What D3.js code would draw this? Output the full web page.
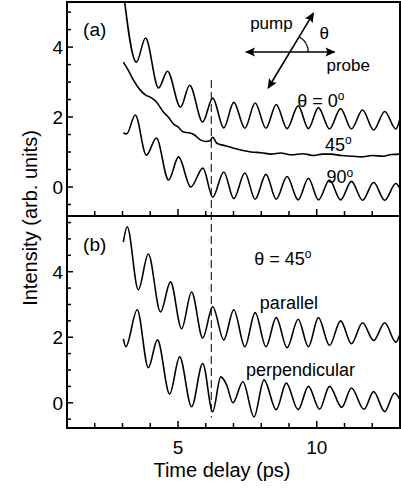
<!DOCTYPE html>
<html>
<head>
<meta charset="utf-8">
<script src="https://cdn.jsdelivr.net/npm/d3@7"></script>
<style>
  body { margin: 0; background: #fff; }
  text { font-family: "Liberation Sans", Arial, Helvetica, sans-serif; fill: #000; }
</style>
</head>
<body>
<svg id="chart"></svg>
<script>
// ---- data (time in ps, intensity in arb. units) ----
const t0   = [3.0, 3.5, 3.83, 4.30, 4.62, 5.09, 5.42, 5.89, 6.25, 6.65, 7.01, 7.41, 7.78, 8.17, 8.54, 8.93, 9.33, 9.70, 10.06, 10.46, 10.86, 11.25, 11.65, 12.05, 12.45, 12.85, 13.0];
const v0   = [5.8, 3.57, 4.26, 2.83, 3.31, 2.28, 2.91, 1.86, 2.54, 1.69, 2.42, 1.68, 2.40, 1.68, 2.36, 1.67, 2.32, 1.67, 2.27, 1.66, 2.24, 1.66, 2.2, 1.63, 2.16, 1.66, 1.95];

const t45  = [3.03, 3.2, 3.4, 3.64, 3.85, 4.0, 4.2, 4.48, 4.65, 4.84, 5.0, 5.2, 5.4, 5.57, 5.82, 6.0, 6.15, 6.25, 6.4, 6.7, 7.01, 7.3, 7.63, 8.0, 8.36, 8.7, 9.1, 9.5, 9.9, 10.2, 10.5, 10.9, 11.3, 11.6, 12.0, 12.4, 12.7, 13.0];
const v45  = [3.57, 3.35, 3.05, 2.77, 2.62, 2.57, 2.45, 2.14, 2.0, 1.8, 1.72, 1.57, 1.55, 1.5, 1.34, 1.3, 1.32, 1.42, 1.25, 1.18, 1.11, 1.05, 1.0, 0.98, 0.94, 0.97, 0.92, 0.95, 0.9, 0.94, 0.94, 0.9, 0.88, 0.86, 0.9, 0.88, 0.93, 0.94];

const t90  = [3.03, 3.15, 3.46, 3.86, 4.22, 4.66, 5.02, 5.46, 5.9, 6.25, 6.65, 7.01, 7.41, 7.78, 8.17, 8.54, 8.93, 9.33, 9.70, 10.06, 10.46, 10.86, 11.25, 11.65, 12.05, 12.45, 12.85, 13.0];
const v90  = [1.54, 1.52, 2.06, 0.91, 1.4, 0.2, 0.86, 0.0, 0.54, -0.29, 0.43, -0.33, 0.40, -0.35, 0.36, -0.35, 0.3, -0.37, 0.25, -0.37, 0.2, -0.37, 0.16, -0.38, 0.13, -0.38, 0.1, -0.05];

const tPar = [3.03, 3.17, 3.57, 3.93, 4.37, 4.73, 5.13, 5.49, 5.89, 6.25, 6.65, 7.01, 7.41, 7.78, 8.17, 8.54, 8.93, 9.33, 9.70, 10.06, 10.46, 10.86, 11.25, 11.65, 12.05, 12.45, 12.85, 13.0];
const vPar = [4.9, 5.37, 3.45, 4.54, 2.77, 3.69, 2.26, 3.38, 1.98, 2.93, 1.92, 2.84, 1.71, 2.75, 1.71, 2.6, 1.68, 2.55, 1.71, 2.6, 1.75, 2.5, 1.8, 2.44, 1.9, 2.44, 1.85, 2.1];

const tPer = [3.03, 3.12, 3.53, 3.93, 4.26, 4.70, 5.06, 5.49, 5.89, 6.25, 6.54, 6.75, 6.98, 7.34, 7.74, 8.1, 8.54, 8.9, 9.33, 9.7, 10.1, 10.46, 10.9, 11.25, 11.7, 12.05, 12.45, 12.8, 13.0];
const vPer = [1.95, 1.71, 2.84, 1.07, 1.92, 0.27, 1.4, -0.12, 1.2, -0.27, 0.79, 0.55, 0.0, 0.64, -0.43, 0.7, -0.21, 0.6, -0.21, 0.5, -0.2, 0.5, -0.14, 0.45, -0.2, 0.34, -0.27, 0.3, 0.1];

const dashT = 6.2;
const xTicks = [1, 2, 3, 4, 5, 6, 7, 8, 9, 10, 11, 12, 13];
const xLabels = [5, 10];
const yLabels = [0, 2, 4];

// ---- layout ----
const W = 401, H = 489;
const svg = d3.select('#chart').attr('width', W).attr('height', H);

const x = d3.scaleLinear().domain([1, 13]).range([67, 400]);
const yA = d3.scaleLinear().domain([-0.83, 5.29]).range([216, 2]);
const yB = d3.scaleLinear().domain([-0.77, 5.7]).range([428, 216]);

const font = '"Liberation Sans", Arial, Helvetica, sans-serif';

svg.append('defs').append('clipPath').attr('id', 'clipA')
  .append('rect').attr('x', 67).attr('y', 2).attr('width', 333).attr('height', 214);
svg.select('defs').append('marker')
  .attr('id', 'head').attr('viewBox', '0 0 10 10').attr('refX', 9).attr('refY', 5)
  .attr('markerWidth', 11).attr('markerHeight', 10).attr('markerUnits', 'userSpaceOnUse')
  .attr('orient', 'auto-start-reverse')
  .append('path').attr('d', 'M0,0.5 L10,5 L0,9.5 L2,5 Z').attr('fill', '#000');

function series(t, v) { return t.map((d, i) => [d, v[i]]); }

function drawPanel(y, curves, clip) {
  const g = svg.append('g');
  const line = d3.line().x(d => x(d[0])).y(d => y(d[1])).curve(d3.curveMonotoneX);
  const cg = g.append('g');
  if (clip) cg.attr('clip-path', 'url(#clipA)');
  curves.forEach(c => {
    cg.append('path').datum(c).attr('d', line)
      .attr('fill', 'none').attr('stroke', '#000').attr('stroke-width', 1.6)
      .attr('stroke-linejoin', 'round');
  });

  // y axis: inward ticks every 0.5
  const [lo, hi] = y.domain();
  const yt = d3.range(Math.ceil(lo * 2) / 2, hi + 1e-9, 0.5);
  g.append('g').selectAll('line').data(yt).join('line')
    .attr('x1', 67).attr('x2', d => 67 + (d % 2 === 0 ? 6 : 4))
    .attr('y1', d => y(d)).attr('y2', d => y(d))
    .attr('stroke', '#000').attr('stroke-width', 1.5);
  g.append('g').selectAll('text').data(yLabels).join('text')
    .attr('x', 63).attr('y', d => y(d)).attr('dy', '0.36em')
    .attr('text-anchor', 'end').attr('font-size', 19).attr('font-family', font)
    .text(d => d);

  // bottom ticks (inward, upward)
  const yb = y.range()[0];
  g.append('g').selectAll('line').data(xTicks).join('line')
    .attr('x1', d => x(d)).attr('x2', d => x(d))
    .attr('y1', yb).attr('y2', d => yb - (d % 5 === 0 ? 7 : 5))
    .attr('stroke', '#000').attr('stroke-width', 1.5);
  return g;
}

drawPanel(yA, [series(t0, v0), series(t45, v45), series(t90, v90)], true);
drawPanel(yB, [series(tPar, vPar), series(tPer, vPer)], false);

// frame
svg.append('rect').attr('x', 67).attr('y', 2).attr('width', 333).attr('height', 426)
  .attr('fill', 'none').attr('stroke', '#000').attr('stroke-width', 2);
svg.append('line').attr('x1', 67).attr('x2', 400).attr('y1', 216).attr('y2', 216)
  .attr('stroke', '#000').attr('stroke-width', 2);

// dashed marker line
svg.append('line')
  .attr('x1', x(dashT)).attr('x2', x(dashT))
  .attr('y1', yA(3.06)).attr('y2', yB(-0.45))
  .attr('stroke', '#000').attr('stroke-width', 1).attr('stroke-dasharray', '8,4');

// x labels
svg.append('g').selectAll('text').data(xLabels).join('text')
  .attr('x', d => x(d)).attr('y', 454).attr('text-anchor', 'middle')
  .attr('font-size', 19).attr('font-family', font).text(d => d);
svg.append('text').attr('x', 222).attr('y', 477).attr('text-anchor', 'middle')
  .attr('font-size', 20).attr('font-family', font).text('Time delay (ps)');
svg.append('text').attr('transform', 'translate(37,218) rotate(-90)')
  .attr('text-anchor', 'middle').attr('font-size', 20).attr('font-family', font)
  .text('Intensity (arb. units)');

// panel labels & annotations
function label(txt, t, v, y, size, anchor) {
  return svg.append('text').attr('x', x(t)).attr('y', y(v)).attr('dy', '0.36em')
    .attr('text-anchor', anchor || 'start').attr('font-size', size).attr('font-family', font)
    .text(txt);
}
function deg(sel) {
  sel.append('tspan').attr('dy', '-0.55em').attr('font-size', 12).text('o');
}
label('(a)', 1.58, 4.5, yA, 19);
label('(b)', 1.58, 4.84, yB, 19);

deg(label('θ = 0', 9.3, 2.47, yA, 18));
deg(label('45', 10.3, 1.22, yA, 18));
deg(label('90', 10.35, 0.29, yA, 18));

deg(label('θ = 45', 7.75, 4.4, yB, 18));
label('parallel', 7.95, 3.07, yB, 18);
label('perpendicular', 7.45, 1.0, yB, 18);

// polarisation inset
label('pump', 7.6, 4.68, yA, 17);
label('θ', 10.1, 4.4, yA, 17);
label('probe', 10.35, 3.48, yA, 17);

svg.append('line')
  .attr('x1', x(7.45)).attr('y1', yA(3.86)).attr('x2', x(10.64)).attr('y2', yA(3.86))
  .attr('stroke', '#000').attr('stroke-width', 1.6)
  .attr('marker-start', 'url(#head)').attr('marker-end', 'url(#head)');
svg.append('line')
  .attr('x1', x(8.25)).attr('y1', yA(2.83)).attr('x2', x(9.88)).attr('y2', yA(4.97))
  .attr('stroke', '#000').attr('stroke-width', 1.6)
  .attr('marker-start', 'url(#head)').attr('marker-end', 'url(#head)');

// dotted angle arc
const cx = x(9.08), cy = yA(3.86), r = 17;
const arc = d3.arc().innerRadius(r).outerRadius(r).startAngle(Math.PI / 2 - 1.03).endAngle(Math.PI / 2);
svg.append('path').attr('d', arc).attr('transform', `translate(${cx},${cy})`)
  .attr('fill', 'none').attr('stroke', '#000').attr('stroke-width', 1.4)
  .attr('stroke-dasharray', '1.5,2');
</script>
</body>
</html>
